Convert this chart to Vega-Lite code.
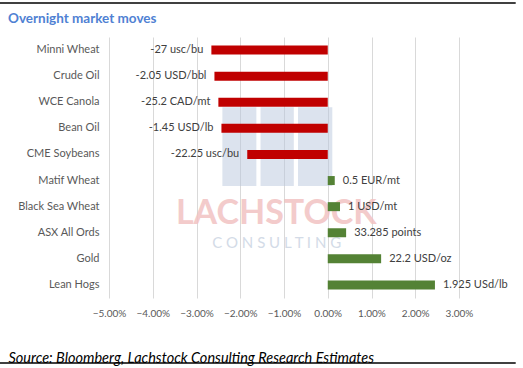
{
  "$schema": "https://vega.github.io/schema/vega-lite/v6.json",
  "width": 350,
  "height": 261,
  "autosize": {"type": "none"},
  "padding": {"left": 109, "top": 37, "right": 64, "bottom": 70},
  "background": "white",
  "config": {
    "view": {"stroke": null},
    "font": "Lato",
    "text": {"font": "Lato"}
  },
  "title": {
    "text": "Overnight market moves",
    "anchor": "start",
    "frame": "group",
    "dx": -101,
    "dy": 51,
    "offset": 17,
    "baseline": "alphabetic",
    "fontSize": 13.5,
    "font": "Lato",
    "fontWeight": "bold",
    "color": "#4F81D3"
  },
  "datasets": {
    "moves": [
      {"market": "Minni Wheat", "change": -0.0266, "label": "-27 usc/bu"},
      {"market": "Crude Oil", "change": -0.0259, "label": "-2.05 USD/bbl"},
      {"market": "WCE Canola", "change": -0.0250, "label": "-25.2 CAD/mt"},
      {"market": "Bean Oil", "change": -0.0243, "label": "-1.45 USD/lb"},
      {"market": "CME Soybeans", "change": -0.0184, "label": "-22.25 usc/bu"},
      {"market": "Matif Wheat", "change": 0.0016, "label": "0.5 EUR/mt"},
      {"market": "Black Sea Wheat", "change": 0.0028, "label": "1 USD/mt"},
      {"market": "ASX All Ords", "change": 0.0042, "label": "33.285 points"},
      {"market": "Gold", "change": 0.0122, "label": "22.2 USD/oz"},
      {"market": "Lean Hogs", "change": 0.0245, "label": "1.925 USd/lb"}
    ],
    "boxes": [
      {"x1": 32.4, "x2": 42.1, "y1": 26.9, "y2": 57.1},
      {"x1": 43.3, "x2": 52.8, "y1": 26.9, "y2": 57.1},
      {"x1": 54.0, "x2": 63.8, "y1": 26.9, "y2": 57.1}
    ],
    "words": [
      {"x": 47.8, "y": 67.8, "word": "LACHSTOCK", "kind": "big"},
      {"x": 47.9, "y": 79.0, "word": "C O N S U L T I N G", "kind": "small"}
    ],
    "lines": [
      {"x1": -31.2, "x2": 116.2, "y": -13.0},
      {"x1": -31.2, "x2": 116.2, "y": 124.9}
    ]
  },
  "layer": [
    {
      "layer": [
        {
          "data": {"name": "boxes"},
          "mark": {"type": "rect", "color": "#B9C8DE", "opacity": 0.5},
          "encoding": {
            "x": {"field": "x1", "type": "quantitative", "scale": {"domain": [0, 100]}, "axis": null},
            "x2": {"field": "x2"},
            "y": {"field": "y1", "type": "quantitative", "scale": {"domain": [0, 100], "reverse": true}, "axis": null},
            "y2": {"field": "y2"}
          }
        },
        {
          "data": {"name": "words"},
          "transform": [{"filter": "datum.kind == 'big'"}],
          "mark": {"type": "text", "font": "Lato", "fontWeight": "bold", "fontSize": 34, "color": "#F2C2C2", "opacity": 0.85, "align": "center", "baseline": "middle"},
          "encoding": {
            "x": {"field": "x", "type": "quantitative", "scale": {"domain": [0, 100]}, "axis": null},
            "y": {"field": "y", "type": "quantitative", "scale": {"domain": [0, 100], "reverse": true}, "axis": null},
            "text": {"field": "word"}
          }
        },
        {
          "data": {"name": "words"},
          "transform": [{"filter": "datum.kind == 'small'"}],
          "mark": {"type": "text", "font": "Lato", "fontSize": 15, "color": "#D3DBE7", "align": "center", "baseline": "middle"},
          "encoding": {
            "x": {"field": "x", "type": "quantitative", "scale": {"domain": [0, 100]}, "axis": null},
            "y": {"field": "y", "type": "quantitative", "scale": {"domain": [0, 100], "reverse": true}, "axis": null},
            "text": {"field": "word"}
          }
        },
        {
          "data": {"name": "lines"},
          "mark": {"type": "rule", "color": "#000000", "strokeWidth": 1.5, "clip": false},
          "encoding": {
            "x": {"field": "x1", "type": "quantitative", "scale": {"domain": [0, 100]}, "axis": null},
            "x2": {"field": "x2"},
            "y": {"field": "y", "type": "quantitative", "scale": {"domain": [0, 100], "reverse": true}, "axis": null}
          }
        }
      ]
    },
    {
      "data": {"name": "moves"},
      "encoding": {
        "y": {
          "field": "market",
          "type": "nominal",
          "sort": null,
          "axis": {
            "title": null,
            "domain": false,
            "ticks": false,
            "labelPadding": 10,
            "labelFont": "Lato",
            "labelFontSize": 11,
            "labelColor": "#595959"
          }
        },
        "x": {
          "field": "change",
          "type": "quantitative",
          "scale": {"domain": [-0.05, 0.03], "nice": false, "zero": false},
          "axis": {
            "title": "Source: Bloomberg, Lachstock Consulting Research Estimates",
            "titleAnchor": "start",
            "titleAlign": "left",
            "titleX": -101,
            "titleY": 64,
            "titleBaseline": "alphabetic",
            "titleFont": "Lato",
            "titleFontStyle": "italic",
            "titleFontWeight": "normal",
            "titleFontSize": 14.5,
            "titleColor": "#000000",
            "format": ".2%",
            "values": [-0.05, -0.04, -0.03, -0.02, -0.01, 0, 0.01, 0.02, 0.03],
            "labelOverlap": false,
            "labelFlush": false,
            "domain": false,
            "ticks": false,
            "grid": true,
            "gridColor": "#D9D9D9",
            "labelPadding": 10,
            "labelFont": "Lato",
            "labelFontSize": 10,
            "labelColor": "#595959"
          }
        }
      },
      "layer": [
        {
          "mark": {"type": "bar", "size": 9},
          "encoding": {
            "color": {
              "condition": {"test": "datum.change < 0", "value": "#C00000"},
              "value": "#548235"
            }
          }
        },
        {
          "transform": [{"filter": "datum.change < 0"}],
          "mark": {"type": "text", "align": "right", "baseline": "middle", "dx": -8, "font": "Lato", "fontSize": 11, "color": "#404040"},
          "encoding": {"text": {"field": "label"}}
        },
        {
          "transform": [{"filter": "datum.change >= 0"}],
          "mark": {"type": "text", "align": "left", "baseline": "middle", "dx": 8, "font": "Lato", "fontSize": 11, "color": "#404040"},
          "encoding": {"text": {"field": "label"}}
        }
      ]
    }
  ],
  "resolve": {"scale": {"x": "independent", "y": "independent"}}
}
